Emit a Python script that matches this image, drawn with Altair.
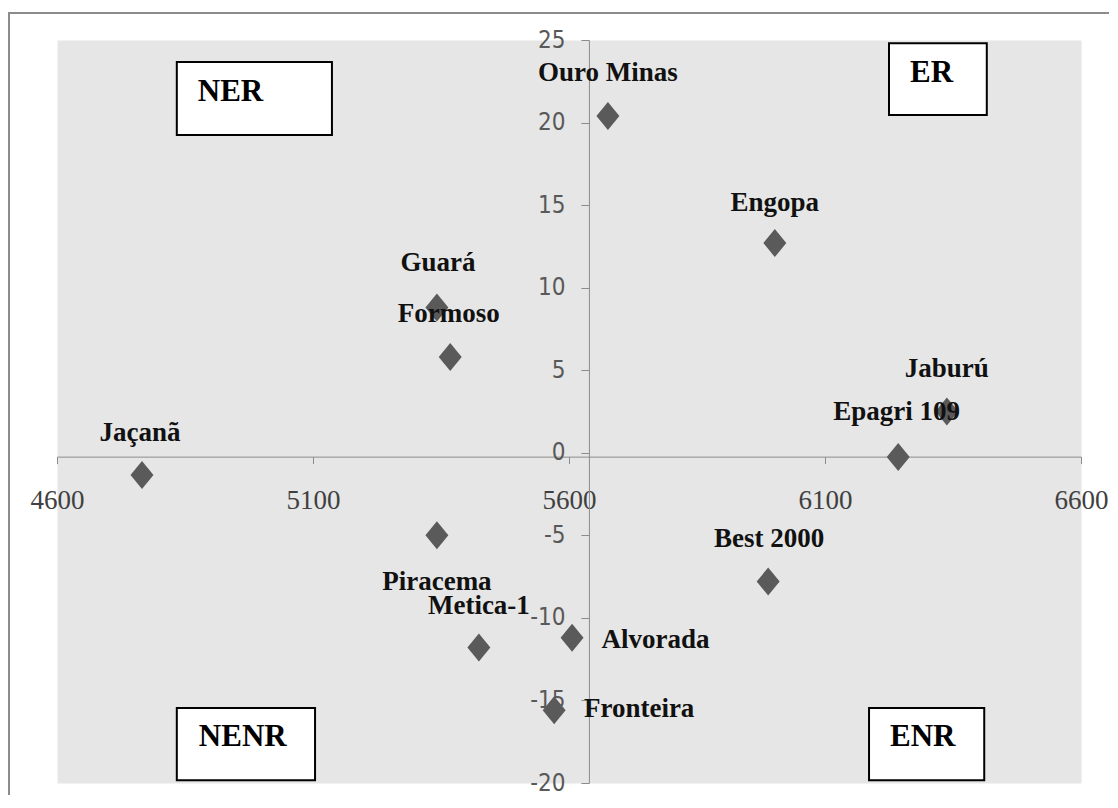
import altair as alt
import pandas as pd

# Cultivars: productivity (x) vs stability index (y)
names = ["Ouro Minas", "Engopa", "Guará", "Formoso", "Jaburú", "Epagri 109",
         "Jaçanã", "Piracema", "Best 2000", "Metica-1", "Alvorada", "Fronteira"]
prod = [5676, 6002, 5342, 5368, 6338, 6243, 4766, 5342, 5989, 5424, 5606, 5571]
stab = [20.4, 12.7, 8.8, 5.8, 2.5, -0.25, -1.35, -5.0, -7.8, -11.8, -11.2, -15.6]
# label anchor positions (data units, as placed in the original)
label_x = [5676, 6002, 5344, 5365, 6338, 6240, 4762, 5342, 5991, 5424, 5769, 5737]
label_y = [23.0, 15.1, 11.5, 8.4, 5.1, 2.5, 1.2, -7.8, -5.2, -9.25, -11.35, -15.5]

x_ticks = [4600, 5100, 5600, 6100, 6600]
y_ticks = [-20, -15, -10, -5, 0, 5, 10, 15, 20, 25]

quad_labels = ["NER", "ER", "NENR", "ENR"]
quad_x0 = [4834, 6225, 4834, 6186]
quad_x1 = [5137, 6416, 5104, 6411]
quad_y0 = [23.67, 24.8, -15.46, -15.46]
quad_y1 = [19.24, 20.46, -19.84, -19.84]
quad_tx = [4875, 6266, 4877, 6227]
quad_ty = [21.85, 23.0, -17.2, -17.2]

W, H = 1024, 743
XD = [4600, 6600]
YD = [-20, 25]

cross_x = sum(prod) / len(prod)
cross_y = sum(stab) / len(stab)
x_cross_px = (cross_x - XD[0]) / (XD[1] - XD[0]) * W
y_cross_px = (YD[1] - cross_y) / (YD[1] - YD[0]) * H

df = pd.DataFrame({"name": names, "prod": prod, "stab": stab,
                   "lx": label_x, "ly": label_y})
qdf = pd.DataFrame({"q": quad_labels, "x0": quad_x0, "x1": quad_x1,
                    "y0": quad_y0, "y1": quad_y1, "tx": quad_tx, "ty": quad_ty})

xs = alt.Scale(domain=XD, nice=False, zero=False)
ys = alt.Scale(domain=YD, nice=False, zero=False)

x_axis = alt.Axis(values=x_ticks, orient="bottom", offset=-(H - y_cross_px),
                  grid=False, domainColor="#8c8c8c", tickColor="#8c8c8c",
                  tickSize=7, labelFont="Liberation Serif", labelFontSize=27,
                  labelColor="#404040", labelPadding=24, labelFlush=False,
                  labelOverlap=False, labelExpr="'' + datum.value")
y_axis = alt.Axis(values=y_ticks, orient="left", offset=-x_cross_px,
                  grid=False, domainColor="#8c8c8c", tickColor="#8c8c8c",
                  tickSize=8, labelFont="Liberation Sans Narrow, DejaVu Sans Condensed, Liberation Sans",
                  labelFontSize=24, labelColor="#595959", labelPadding=16,
                  labelFlush=False, labelOverlap=False,
                  labelExpr="'' + datum.value")

diamond = "M0,-1L0.82,0L0,1L-0.82,0Z"

points = alt.Chart(df).mark_point(shape=diamond, filled=True, color="#5a5a5a",
                                  size=784, opacity=1).encode(
    x=alt.X("prod:Q", scale=xs, axis=x_axis, title=""),
    y=alt.Y("stab:Q", scale=ys, axis=y_axis, title=""),
)

labels = alt.Chart(df).mark_text(font="Liberation Serif", fontWeight="bold",
                                 fontSize=27, color="#111111", align="center",
                                 baseline="middle").encode(
    x=alt.X("lx:Q", scale=xs),
    y=alt.Y("ly:Q", scale=ys),
    text="name:N",
)

boxes = alt.Chart(qdf).mark_rect(fill="white", stroke="black", strokeWidth=2).encode(
    x=alt.X("x0:Q", scale=xs), x2="x1:Q",
    y=alt.Y("y0:Q", scale=ys), y2="y1:Q",
)

box_text = alt.Chart(qdf).mark_text(font="Liberation Serif", fontWeight="bold",
                                    fontSize=31, color="black", align="left",
                                    baseline="middle").encode(
    x=alt.X("tx:Q", scale=xs),
    y=alt.Y("ty:Q", scale=ys),
    text="q:N",
)

frame = alt.Chart(pd.DataFrame({"a": [0]})).mark_rect(
    filled=False, stroke="#8c8c8c", strokeWidth=2).encode(
    x=alt.value(-48), x2=alt.value(1200), y=alt.value(-27), y2=alt.value(900))

chart = alt.layer(frame, boxes, box_text, points, labels).properties(
    width=W, height=H,
    autosize=alt.AutoSizeParams(type="none"),
    padding={"left": 49, "top": 32, "right": 28, "bottom": 12},
).configure(background="white").configure_view(fill="#e6e6e6", stroke="transparent")

chart.save("out.html", embed_options={"renderer": "svg", "actions": False})
